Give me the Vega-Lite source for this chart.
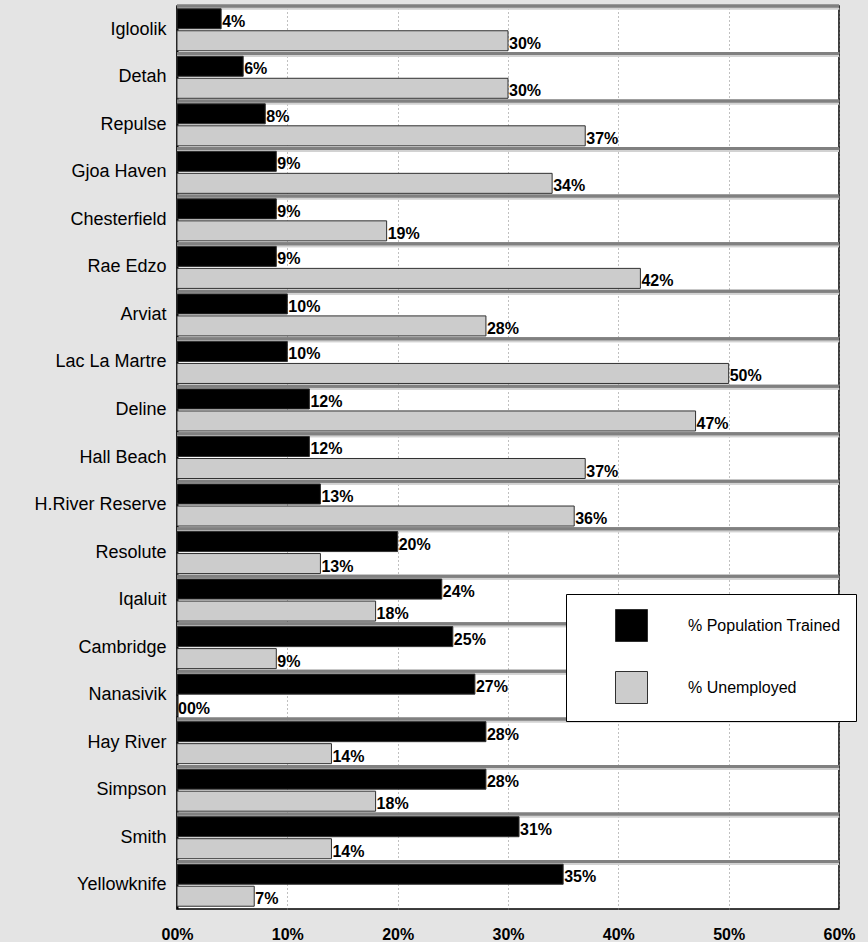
{
  "$schema": "https://vega.github.io/schema/vega-lite/v6.json",
  "width": 662,
  "height": 903,
  "autosize": "none",
  "padding": {"left": 177, "top": 6, "right": 29, "bottom": 33},
  "background": "#e4e4e4",
  "config": {
    "font": "Liberation Sans",
    "view": {"fill": "white", "stroke": "#000000", "strokeWidth": 1.5}
  },
  "data": {
    "values": [
      {"community": "Igloolik", "series": "% Population Trained", "value": 4, "label": "4%"},
      {"community": "Igloolik", "series": "% Unemployed", "value": 30, "label": "30%"},
      {"community": "Detah", "series": "% Population Trained", "value": 6, "label": "6%"},
      {"community": "Detah", "series": "% Unemployed", "value": 30, "label": "30%"},
      {"community": "Repulse", "series": "% Population Trained", "value": 8, "label": "8%"},
      {"community": "Repulse", "series": "% Unemployed", "value": 37, "label": "37%"},
      {"community": "Gjoa Haven", "series": "% Population Trained", "value": 9, "label": "9%"},
      {"community": "Gjoa Haven", "series": "% Unemployed", "value": 34, "label": "34%"},
      {"community": "Chesterfield", "series": "% Population Trained", "value": 9, "label": "9%"},
      {"community": "Chesterfield", "series": "% Unemployed", "value": 19, "label": "19%"},
      {"community": "Rae Edzo", "series": "% Population Trained", "value": 9, "label": "9%"},
      {"community": "Rae Edzo", "series": "% Unemployed", "value": 42, "label": "42%"},
      {"community": "Arviat", "series": "% Population Trained", "value": 10, "label": "10%"},
      {"community": "Arviat", "series": "% Unemployed", "value": 28, "label": "28%"},
      {"community": "Lac La Martre", "series": "% Population Trained", "value": 10, "label": "10%"},
      {"community": "Lac La Martre", "series": "% Unemployed", "value": 50, "label": "50%"},
      {"community": "Deline", "series": "% Population Trained", "value": 12, "label": "12%"},
      {"community": "Deline", "series": "% Unemployed", "value": 47, "label": "47%"},
      {"community": "Hall Beach", "series": "% Population Trained", "value": 12, "label": "12%"},
      {"community": "Hall Beach", "series": "% Unemployed", "value": 37, "label": "37%"},
      {"community": "H.River Reserve", "series": "% Population Trained", "value": 13, "label": "13%"},
      {"community": "H.River Reserve", "series": "% Unemployed", "value": 36, "label": "36%"},
      {"community": "Resolute", "series": "% Population Trained", "value": 20, "label": "20%"},
      {"community": "Resolute", "series": "% Unemployed", "value": 13, "label": "13%"},
      {"community": "Iqaluit", "series": "% Population Trained", "value": 24, "label": "24%"},
      {"community": "Iqaluit", "series": "% Unemployed", "value": 18, "label": "18%"},
      {"community": "Cambridge", "series": "% Population Trained", "value": 25, "label": "25%"},
      {"community": "Cambridge", "series": "% Unemployed", "value": 9, "label": "9%"},
      {"community": "Nanasivik", "series": "% Population Trained", "value": 27, "label": "27%"},
      {"community": "Nanasivik", "series": "% Unemployed", "value": 0, "label": "00%"},
      {"community": "Hay River", "series": "% Population Trained", "value": 28, "label": "28%"},
      {"community": "Hay River", "series": "% Unemployed", "value": 14, "label": "14%"},
      {"community": "Simpson", "series": "% Population Trained", "value": 28, "label": "28%"},
      {"community": "Simpson", "series": "% Unemployed", "value": 18, "label": "18%"},
      {"community": "Smith", "series": "% Population Trained", "value": 31, "label": "31%"},
      {"community": "Smith", "series": "% Unemployed", "value": 14, "label": "14%"},
      {"community": "Yellowknife", "series": "% Population Trained", "value": 35, "label": "35%"},
      {"community": "Yellowknife", "series": "% Unemployed", "value": 7, "label": "7%"}
    ]
  },
  "layer": [
    {
      "mark": {"type": "rule", "color": "#d2d2d2", "strokeWidth": 2, "yOffset": 2.5},
      "encoding": {
        "y": {"field": "community", "type": "nominal", "sort": null, "bandPosition": 0,
              "scale": {"paddingInner": 0, "paddingOuter": 0}}
      }
    },
    {
      "mark": {"type": "rule", "color": "#808080", "strokeWidth": 3},
      "encoding": {
        "y": {"field": "community", "type": "nominal", "sort": null, "bandPosition": 0}
      }
    },
    {
      "mark": {"type": "bar", "stroke": "#303030", "strokeWidth": 1},
      "encoding": {
        "y": {
          "field": "community", "type": "nominal", "sort": null,
          "axis": {
            "title": null, "ticks": false, "grid": false,
            "domainColor": "#000000", "domainWidth": 2,
            "labelFontSize": 18, "labelColor": "#000000", "labelPadding": 11,
            "labelFont": "Liberation Sans"
          }
        },
        "yOffset": {
          "field": "series", "type": "nominal",
          "sort": ["% Population Trained", "% Unemployed"],
          "scale": {"paddingInner": 0.09, "paddingOuter": 0.125}
        },
        "x": {
          "field": "value", "type": "quantitative",
          "scale": {"domain": [0, 60], "nice": false},
          "axis": {
            "title": null, "values": [0, 10, 20, 30, 40, 50, 60],
            "labelExpr": "datum.value == 0 ? '00%' : datum.value + '%'",
            "labelFlush": false, "labelOverlap": false,
            "ticks": false, "domain": false,
            "grid": true, "gridColor": "#808080", "gridDash": [1, 3], "gridWidth": 1,
            "labelFontSize": 16, "labelFontWeight": "bold", "labelColor": "#000000",
            "labelPadding": 17, "labelFont": "Liberation Sans"
          }
        },
        "color": {
          "field": "series", "type": "nominal",
          "sort": ["% Population Trained", "% Unemployed"],
          "scale": {"domain": ["% Population Trained", "% Unemployed"], "range": ["#000000", "#cccccc"]},
          "legend": {
            "title": null, "orient": "none", "legendX": 389, "legendY": 588,
            "direction": "vertical",
            "fillColor": "#ffffff", "strokeColor": "#000000",
            "padding": 15, "symbolOffset": 34,
            "symbolType": "square", "symbolSize": 1024,
            "symbolStrokeColor": "#303030", "symbolStrokeWidth": 1,
            "labelOffset": 40, "rowPadding": 25,
            "labelFontSize": 16, "labelColor": "#000000", "labelFont": "Liberation Sans"
          }
        }
      }
    },
    {
      "mark": {"type": "text", "align": "left", "baseline": "alphabetic", "dx": 1, "dy": 8,
               "fontWeight": "bold", "fontSize": 16, "color": "#000000"},
      "encoding": {
        "y": {"field": "community", "type": "nominal", "sort": null},
        "yOffset": {"field": "series", "type": "nominal",
                    "sort": ["% Population Trained", "% Unemployed"]},
        "x": {"field": "value", "type": "quantitative"},
        "text": {"field": "label", "type": "nominal"}
      }
    }
  ]
}
